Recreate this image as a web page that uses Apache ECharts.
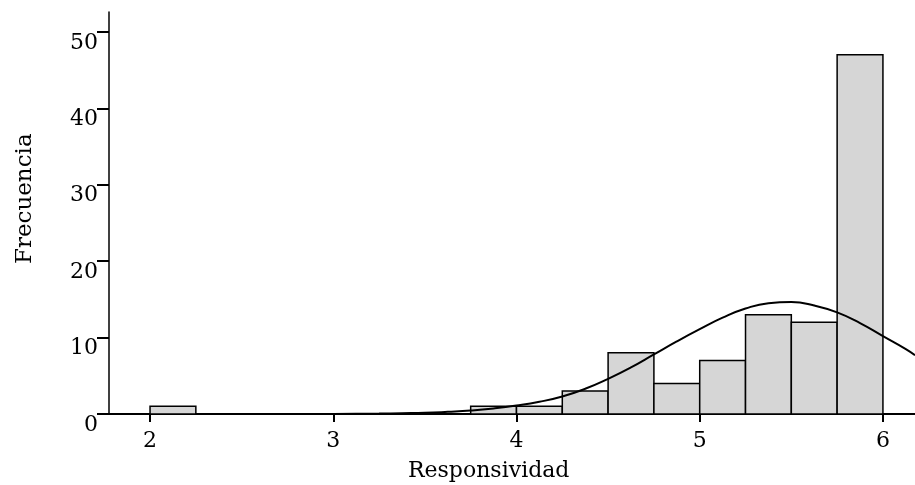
<!DOCTYPE html>
<html>
<head>
<meta charset="utf-8">
<script src="https://cdn.jsdelivr.net/npm/echarts@6/dist/echarts.min.js"></script>
<style>
  html, body { margin: 0; padding: 0; background: #fff; }
  #chart { width: 915px; height: 485px; }
</style>
</head>
<body>
<div id="chart"></div>
<script>
// bins (start, end) and counts
const binStarts = [2.0, 3.75, 4.0, 4.25, 4.5, 4.75, 5.0, 5.25, 5.5, 5.75];
const binEnds   = [2.25, 4.0, 4.25, 4.5, 4.75, 5.0, 5.25, 5.5, 5.75, 6.0];
const counts    = [1, 1, 1, 3, 8, 4, 7, 13, 12, 47];

// fitted normal curve
const curveX = [3.0, 3.125, 3.25, 3.375, 3.5, 3.625, 3.75, 3.875, 4.0, 4.125, 4.25, 4.375,
                4.5, 4.625, 4.75, 4.875, 5.0, 5.125, 5.25, 5.375, 5.5, 5.625, 5.75, 5.875,
                6.0, 6.125, 6.175];
const curveY = [0.0, 0.02, 0.05, 0.1, 0.15, 0.28, 0.45, 0.72, 1.1, 1.6, 2.3, 3.3,
                4.6, 6.1, 7.8, 9.5, 11.1, 12.6, 13.8, 14.5, 14.65, 14.2, 13.3, 11.9,
                10.2, 8.5, 7.7];

const xTicks = [2, 3, 4, 5, 6];
const yTicks = [0, 10, 20, 30, 40, 50];

const FONT = 'DejaVu Serif';

const chart = echarts.init(document.getElementById('chart'));

const bars = binStarts.map((s, i) => [s, binEnds[i], counts[i]]);
const curve = curveX.map((x, i) => [x, curveY[i]]);

chart.setOption({
  animation: false,
  grid: { left: 109, right: 0, top: 12, bottom: 71 },
  xAxis: {
    type: 'value',
    min: 1.776,
    max: 6.175,
    splitLine: { show: false },
    axisLine: { lineStyle: { color: '#000', width: 2 } },
    axisTick: { customValues: xTicks, length: 8, lineStyle: { color: '#000', width: 2 } },
    axisLabel: {
      customValues: xTicks, margin: 16, color: '#000',
      fontFamily: FONT, fontSize: 22
    }
  },
  yAxis: {
    type: 'value',
    min: 0,
    max: 52.6,
    splitLine: { show: false },
    axisLine: { show: true, lineStyle: { color: '#000', width: 1.5 } },
    axisTick: { show: true, customValues: yTicks, length: 12, lineStyle: { color: '#000', width: 2 } },
    axisLabel: {
      customValues: yTicks, margin: 11, color: '#000', verticalAlign: 'top',
      fontFamily: FONT, fontSize: 22
    }
  },
  graphic: [
    {
      type: 'text', left: 408, top: 460,
      style: { text: 'Responsividad', font: '22px "DejaVu Serif"', fill: '#000' }
    },
    {
      type: 'text', x: 14, y: 264, rotation: Math.PI / 2,
      style: { text: 'Frecuencia', font: '23px "DejaVu Serif"', fill: '#000' }
    }
  ],
  series: [
    {
      type: 'custom',
      data: bars,
      renderItem: (params, api) => {
        const p0 = api.coord([api.value(0), api.value(2)]);
        const p1 = api.coord([api.value(1), 0]);
        return {
          type: 'rect',
          shape: { x: p0[0], y: p0[1], width: p1[0] - p0[0], height: p1[1] - p0[1] },
          style: { fill: '#d6d6d6', stroke: '#000', lineWidth: 1.5 }
        };
      },
      z: 2
    },
    {
      type: 'line',
      data: curve,
      smooth: true,
      showSymbol: false,
      lineStyle: { color: '#000', width: 2 },
      z: 3
    }
  ]
});
</script>
</body>
</html>
